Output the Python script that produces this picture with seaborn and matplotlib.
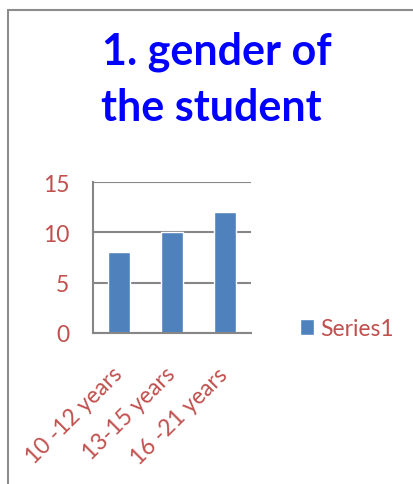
import matplotlib.pyplot as plt
import seaborn as sns
import pandas as pd
from matplotlib.lines import Line2D

# chart data
categories = ['10 -12 years', '13-15 years', '16 -21 years']
values = [8, 10, 12]
series_name = 'Series1'
y_ticks = [0, 5, 10, 15]

bar_color = '#4F81BD'
text_color = '#C0504D'
grid_color = '#868686'

df = pd.DataFrame({'category': categories, 'value': values})

sns.set_theme(style='white')
plt.rcParams['font.family'] = ['Lato', 'DejaVu Sans']

fig = plt.figure(figsize=(4.13, 4.85), dpi=100)
ax = fig.add_axes([93 / 413, 1 - 334 / 485, 158 / 413, 151 / 485])

sns.barplot(data=df, x='category', y='value', color=bar_color,
            width=0.42, saturation=1, label=series_name, ax=ax)

ax.set_ylim(0, 15)
ax.set_yticks(y_ticks)
ax.set_xlim(-0.5, len(categories) - 0.5)
ax.set_xlabel('')
ax.set_ylabel('')

# gridlines in grey, drawn behind the bars
ax.yaxis.grid(True, color=grid_color, linewidth=1.5)
ax.set_axisbelow(True)
for side in ['top', 'right']:
    ax.spines[side].set_visible(False)
for side in ['left', 'bottom']:
    ax.spines[side].set_color(grid_color)
    ax.spines[side].set_linewidth(1.5)

ax.tick_params(axis='y', length=0, pad=17, labelsize=16.5, labelcolor=text_color)
ax.tick_params(axis='x', length=0, pad=27, labelsize=16.5, labelcolor=text_color)
plt.setp(ax.get_xticklabels(), rotation=45, ha='right', va='center',
         rotation_mode='anchor')

# legend on the right
leg = ax.legend(loc='center left', bbox_to_anchor=(1.18, 0.03), frameon=False,
                handlelength=0.62, handleheight=0.7, handletextpad=0.28,
                fontsize=16.5)
for t in leg.get_texts():
    t.set_color(text_color)

# title
fig.text(0.525, 1 - 52 / 485, '1. gender of', ha='center', va='center',
         fontsize=31, fontweight='bold', color='#0000FF')
fig.text(0.512, 1 - 108 / 485, 'the student', ha='center', va='center',
         fontsize=31, fontweight='bold', color='#0000FF')

# chart area border (cut off at right and bottom)
fig.add_artist(Line2D([8 / 413, 8 / 413], [0, 1 - 11 / 485],
                      transform=fig.transFigure, color='#8C8C8C', linewidth=1.5))
fig.add_artist(Line2D([8 / 413, 1], [1 - 11 / 485, 1 - 11 / 485],
                      transform=fig.transFigure, color='#8C8C8C', linewidth=1.5))

fig.savefig('out.png', dpi=100)
plt.close(fig)
